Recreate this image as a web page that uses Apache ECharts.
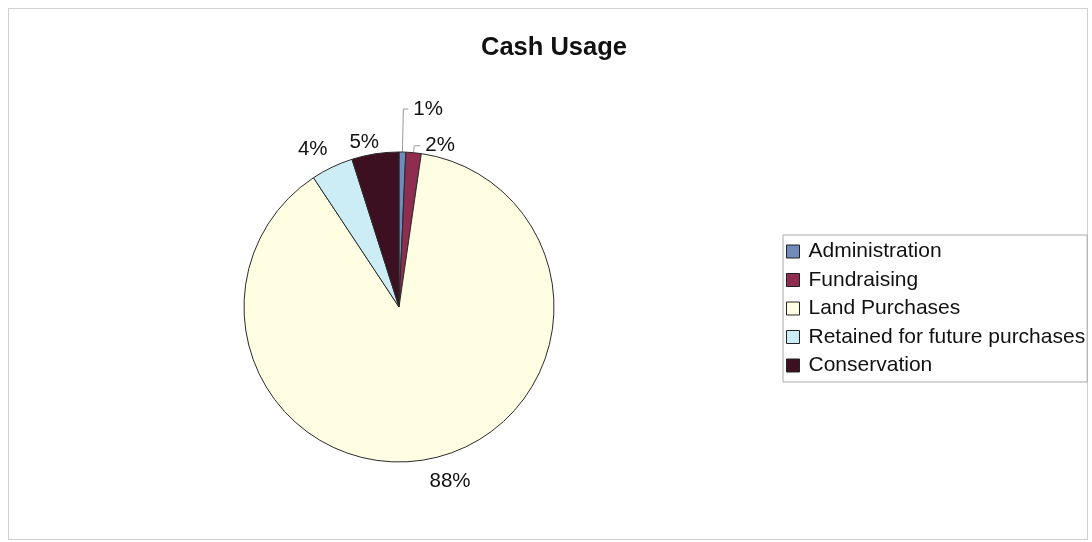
<!DOCTYPE html>
<html>
<head>
<meta charset="utf-8">
<script src="https://cdn.jsdelivr.net/npm/echarts@6/dist/echarts.min.js"></script>
<style>
html,body{margin:0;padding:0;background:#fff;}
#frame{position:absolute;left:8px;top:8px;width:1080px;height:532px;border:1px solid #d0d0d0;box-sizing:border-box;}
#chart{position:absolute;left:0;top:0;width:1092px;height:542px;}
</style>
</head>
<body>
<div id="frame"></div>
<div id="chart"></div>
<script>
const categories = ['Administration', 'Fundraising', 'Land Purchases', 'Retained for future purchases', 'Conservation'];
const values = [0.7, 1.6, 88.4, 4.4, 4.9];
const colors = ['#6f8cbc', '#8f2d50', '#fffde2', '#cdedf6', '#3c1020'];

const lineLens = [[43, 5, true], [7, 6, true], [8, 0, false], [6, 0, false], [8, 0, false]];
const labelNudge = [[0, 0], [0, 0], [-10, 15], [3, -12], [10, -4]];

const chart = echarts.init(document.getElementById('chart'));
chart.setOption({
  animation: false,
  title: {
    text: 'Cash Usage',
    left: 549, top: 30, textAlign: 'center',
    textStyle: {fontFamily: 'Liberation Sans, Arial, sans-serif', fontSize: 25.5, fontWeight: 'bold', color: '#111'}
  },
  legend: {
    orient: 'vertical',
    left: 783, top: 235,
    padding: [6, 2, 6, 3],
    itemGap: 7.5,
    itemWidth: 13, itemHeight: 13,
    borderColor: '#aaa', borderWidth: 1,
    icon: 'rect',
    data: categories,
    textStyle: {fontFamily: 'Liberation Sans, Arial, sans-serif', fontSize: 21, color: '#111', padding: [0, 0, 0, 4]},
    itemStyle: {borderColor: '#222', borderWidth: 1}
  },
  series: [{
    type: 'pie',
    center: [399, 307],
    radius: 155,
    startAngle: 90,
    clockwise: true,
    avoidLabelOverlap: false,
    itemStyle: {borderColor: '#2a2a2a', borderWidth: 1},
    label: {
      position: 'outside',
      fontFamily: 'Liberation Sans, Arial, sans-serif',
      fontSize: 20.5,
      color: '#111',
      formatter: p => Math.round(p.value) + '%'
    },
    labelLine: {lineStyle: {color: '#999', width: 1}},
    labelLayout: p => (lineLens[p.dataIndex][2] ? {} : {dx: labelNudge[p.dataIndex][0], dy: labelNudge[p.dataIndex][1]}),
    data: categories.map((c, i) => ({
      name: c,
      value: values[i],
      itemStyle: {color: colors[i]},
      labelLine: {show: lineLens[i][2], length: lineLens[i][0], length2: lineLens[i][1]}
    }))
  }]
});
</script>
</body>
</html>
